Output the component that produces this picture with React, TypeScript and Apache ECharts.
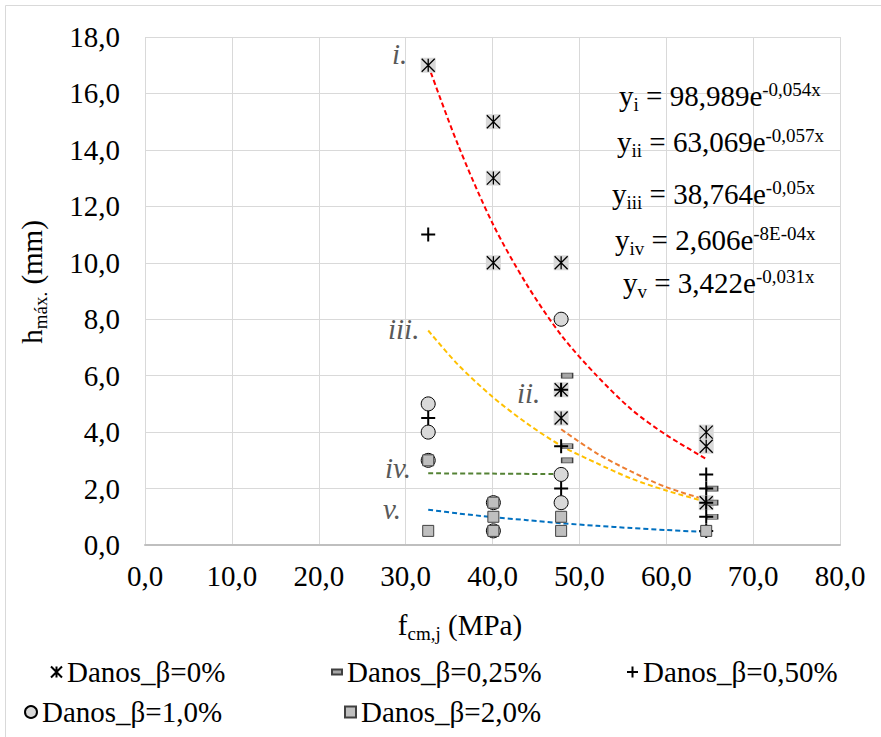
import React, { useEffect, useRef } from 'react';
import * as echarts from 'echarts';

// ---- data (x = f_cm,j in MPa, y = h_max in mm) ----
const beta0: number[][] = [
  [32.6, 17.0], [40.1, 15.0], [40.1, 13.0], [40.1, 10.0], [47.9, 10.0],
  [47.9, 5.5], [47.9, 4.5], [64.6, 4.0], [64.6, 3.5], [64.6, 1.5],
];
const beta025: number[][] = [
  [47.9, 6.0], [47.9, 3.5], [47.9, 3.0], [64.6, 2.0], [64.6, 1.5], [64.6, 1.0],
];
const beta050: number[][] = [
  [32.6, 11.0], [32.6, 4.5], [47.9, 5.5], [47.9, 3.5], [47.9, 2.0],
  [64.6, 2.5], [64.6, 2.0], [64.6, 1.5], [64.6, 1.0], [64.6, 0.5],
];
const beta1: number[][] = [
  [32.6, 5.0], [32.6, 4.0], [32.6, 3.0], [40.1, 1.5], [40.1, 0.5],
  [47.9, 8.0], [47.9, 2.5], [47.9, 1.5],
];
const beta2: number[][] = [
  [32.6, 3.0], [32.6, 0.5], [40.1, 1.5], [40.1, 1.0], [40.1, 0.5],
  [47.9, 1.0], [47.9, 0.5], [64.6, 0.5],
];

// trendlines
const trendI: number[][] = [
  [32.6, 17.0], [36, 14.2], [40, 11.4], [44, 9.2], [48, 7.4], [52, 6.0], [56, 4.8], [60, 3.9], [64.6, 3.05],
];
const trendII: number[][] = [
  [47.9, 4.1], [52, 3.25], [56, 2.6], [60, 2.05], [64.6, 1.6],
];
const trendIII: number[][] = [
  [32.6, 7.6], [36, 6.4], [40, 5.25], [44, 4.3], [48, 3.5], [52, 2.9], [56, 2.35], [60, 1.93], [64.6, 1.53],
];
const trendIV: number[][] = [
  [32.6, 2.54], [40, 2.53], [47.9, 2.51],
];
const trendV: number[][] = [
  [32.6, 1.25], [36, 1.12], [40, 0.99], [44, 0.88], [48, 0.77], [52, 0.68], [56, 0.6], [60, 0.53], [64.6, 0.46],
];

const seriesNames = ['Danos_β=0%', 'Danos_β=0,25%', 'Danos_β=0,50%', 'Danos_β=1,0%', 'Danos_β=2,0%'];
const trendLabels = ['i.', 'ii.', 'iii.', 'iv.', 'v.'];
const eqSubs = ['i', 'ii', 'iii', 'iv', 'v'];
const eqBodies = [' = 98,989e', ' = 63,069e', ' = 38,764e', ' = 2,606e', ' = 3,422e'];
const eqExps = ['-0,054x', '-0,057x', '-0,05x', '-8E-04x', '-0,031x'];

const FONT = 'Liberation Serif';

// advance widths (em) of the serif face, used to chain sub/superscript pieces
const CW: Record<string, number> = {
  ' ': 0.25, '=': 0.564, ',': 0.25, '.': 0.25, '-': 0.333, '(': 0.333, ')': 0.333,
  '0': 0.5, '1': 0.5, '2': 0.5, '3': 0.5, '4': 0.5, '5': 0.5, '6': 0.5, '7': 0.5, '8': 0.5, '9': 0.5,
  e: 0.444, y: 0.5, i: 0.278, v: 0.5, x: 0.5, E: 0.611, f: 0.333, c: 0.444, m: 0.778, j: 0.278,
  M: 0.889, P: 0.556, a: 0.444, h: 0.5, 'á': 0.444,
};
const tw = (s: string, size: number) => s.split('').reduce((a, ch) => a + (CW[ch] ?? 0.5), 0) * size;

const asteriskSymbol = 'path://M0,0L16,16M16,0L0,16M8,0L8,16';
const plusSymbol = 'path://M8,0L8,16M0,8L16,8';

const fmt = (v: number) => v.toFixed(1).replace('.', ',');

function txt(x: number, y: number, text: string, size: number, extra: any = {}) {
  const { style, ...rest } = extra;
  return {
    type: 'text',
    x,
    y,
    silent: true,
    z: 10,
    ...rest,
    style: {
      text,
      fontSize: size,
      fontFamily: FONT,
      fill: '#000',
      textAlign: 'left',
      align: 'left',
      textVerticalAlign: 'middle',
      verticalAlign: 'middle',
      ...(style || {}),
    },
  };
}

// "main + sub + main (+ sup)" sequence of separate text pieces
function seq(x0: number, y0: number, parts: { t: string; k: 'm' | 's' | 'p' }[], rotate = false) {
  const out: any[] = [];
  let adv = 0;
  parts.forEach((p) => {
    const size = p.k === 'm' ? 29 : 19;
    const dy = p.k === 's' ? 8 : p.k === 'p' ? -7 : 0;
    if (!rotate) {
      out.push(txt(x0 + adv, y0 + dy, p.t, size));
    } else {
      out.push(txt(x0 + dy, y0 - adv, p.t, size, { rotation: Math.PI / 2 }));
    }
    adv += tw(p.t, size);
  });
  return out;
}

export default function App() {
  const ref = useRef<HTMLDivElement>(null);

  useEffect(() => {
    if (!ref.current) return;
    const chart = echarts.init(ref.current, null, { renderer: 'svg' });

    const trendColors = ['#ff0000', '#ed7d31', '#ffc000', '#548235', '#0070c0'];
    const trends = [trendI, trendII, trendIII, trendIV, trendV];

    const eqX = [619, 617, 612, 615, 623];
    const eqY = [96, 142, 194, 240, 283];

    const labelPos = [
      [392, 54], [517, 393], [388, 329], [385, 468], [383, 509],
    ];

    const legendText = { fontSize: 29, fontFamily: FONT, color: '#000', lineHeight: 32 };

    const xTitle = [
      { t: 'f', k: 'm' as const }, { t: 'cm,j', k: 's' as const }, { t: ' (MPa)', k: 'm' as const },
    ];
    const yTitle = [
      { t: 'h', k: 'm' as const }, { t: 'máx.', k: 's' as const }, { t: ' (mm)', k: 'm' as const },
    ];
    const xTitleW = xTitle.reduce((a, p) => a + tw(p.t, p.k === 'm' ? 29 : 19), 0);
    const yTitleW = yTitle.reduce((a, p) => a + tw(p.t, p.k === 'm' ? 29 : 19), 0);

    const option: any = {
      animation: false,
      grid: { left: 145, right: 41, top: 37, bottom: 192, containLabel: false },
      xAxis: {
        type: 'value',
        min: 0,
        max: 80,
        interval: 10,
        axisLine: { show: true, lineStyle: { color: '#bfbfbf', width: 2 } },
        axisTick: { show: false },
        axisLabel: { fontSize: 29, color: '#000', margin: 16, fontFamily: FONT, formatter: fmt },
        splitLine: { show: true, lineStyle: { color: '#d9d9d9', width: 1 } },
      },
      yAxis: {
        type: 'value',
        min: 0,
        max: 18,
        interval: 2,
        axisLine: { show: false },
        axisTick: { show: false },
        axisLabel: { fontSize: 29, color: '#000', margin: 25, fontFamily: FONT, formatter: fmt },
        splitLine: { show: true, lineStyle: { color: '#d9d9d9', width: 1 } },
      },
      legend: [
        { left: 50, top: 656, padding: 0, itemWidth: 11, itemHeight: 11, selectedMode: false, textStyle: legendText,
          data: [{ name: seriesNames[0], icon: asteriskSymbol }] },
        { left: 331, top: 656, padding: 0, itemWidth: 10, itemHeight: 5, symbolKeepAspect: false, selectedMode: false, textStyle: legendText,
          data: [{ name: seriesNames[1], icon: 'rect' }] },
        { left: 626, top: 656, padding: 0, itemWidth: 11, itemHeight: 11, selectedMode: false, textStyle: legendText,
          data: [{ name: seriesNames[2], icon: plusSymbol }] },
        { left: 24, top: 696, padding: 0, itemWidth: 12, itemHeight: 12, selectedMode: false, textStyle: legendText,
          data: [{ name: seriesNames[3], icon: 'circle' }] },
        { left: 344, top: 696, padding: 0, itemWidth: 11, itemHeight: 11, selectedMode: false, textStyle: legendText,
          data: [{ name: seriesNames[4], icon: 'rect' }] },
      ],
      series: [
        ...trends.map((d, i) => ({
          type: 'line',
          name: 'trend' + i,
          data: d,
          smooth: 0.3,
          symbol: 'none',
          showSymbol: false,
          silent: true,
          z: 1,
          lineStyle: { color: trendColors[i], width: 2, type: [5, 3] },
        })),
        {
          // light grey box behind each asterisk marker
          type: 'scatter', name: 'box0', data: beta0, z: 2, silent: true,
          symbol: 'rect', symbolSize: 15,
          itemStyle: { color: '#d9d9d9', opacity: 1 },
        },
        {
          type: 'scatter', name: seriesNames[0], data: beta0, z: 3,
          symbol: asteriskSymbol, symbolSize: 13,
          itemStyle: { color: '#000', borderColor: '#000', borderWidth: 1.3, opacity: 1 },
        },
        {
          type: 'scatter', name: seriesNames[1], data: beta025, z: 3,
          symbol: 'rect', symbolSize: [11, 5], symbolOffset: [6, 0],
          itemStyle: { color: '#a6a6a6', borderColor: '#404040', borderWidth: 1, opacity: 1 },
        },
        {
          type: 'scatter', name: seriesNames[2], data: beta050, z: 3,
          symbol: plusSymbol, symbolSize: 14,
          itemStyle: { color: '#000', borderColor: '#000', borderWidth: 2, opacity: 1 },
        },
        {
          type: 'scatter', name: seriesNames[3], data: beta1, z: 3,
          symbol: 'circle', symbolSize: 14,
          itemStyle: { color: '#d9d9d9', borderColor: '#000', borderWidth: 1, opacity: 1 },
        },
        {
          type: 'scatter', name: seriesNames[4], data: beta2, z: 3,
          symbol: 'rect', symbolSize: 11,
          itemStyle: { color: '#bfbfbf', borderColor: '#404040', borderWidth: 1, opacity: 1 },
        },
      ],
      graphic: [
        {
          type: 'rect',
          silent: true,
          z: -10,
          shape: { x: 5.5, y: 5.5, width: 900, height: 800 },
          style: { fill: 'none', stroke: '#d9d9d9', lineWidth: 1 },
        },
        ...eqSubs.flatMap((s, i) =>
          seq(eqX[i], eqY[i], [
            { t: 'y', k: 'm' }, { t: s, k: 's' }, { t: eqBodies[i], k: 'm' }, { t: eqExps[i], k: 'p' },
          ])
        ),
        ...trendLabels.map((t, i) =>
          txt(labelPos[i][0], labelPos[i][1], t, 29, { style: { fontStyle: 'italic', fill: '#595959' } })
        ),
        ...seq(460 - xTitleW / 2, 625, xTitle),
        ...seq(32, 282 + yTitleW / 2, yTitle, true),
      ],
    };

    chart.setOption(option);
    return () => chart.dispose();
  }, []);

  return (
    <div
      ref={ref}
      style={{ position: 'fixed', left: 0, top: 0, width: 881, height: 737, background: '#fff' }}
    />
  );
}
